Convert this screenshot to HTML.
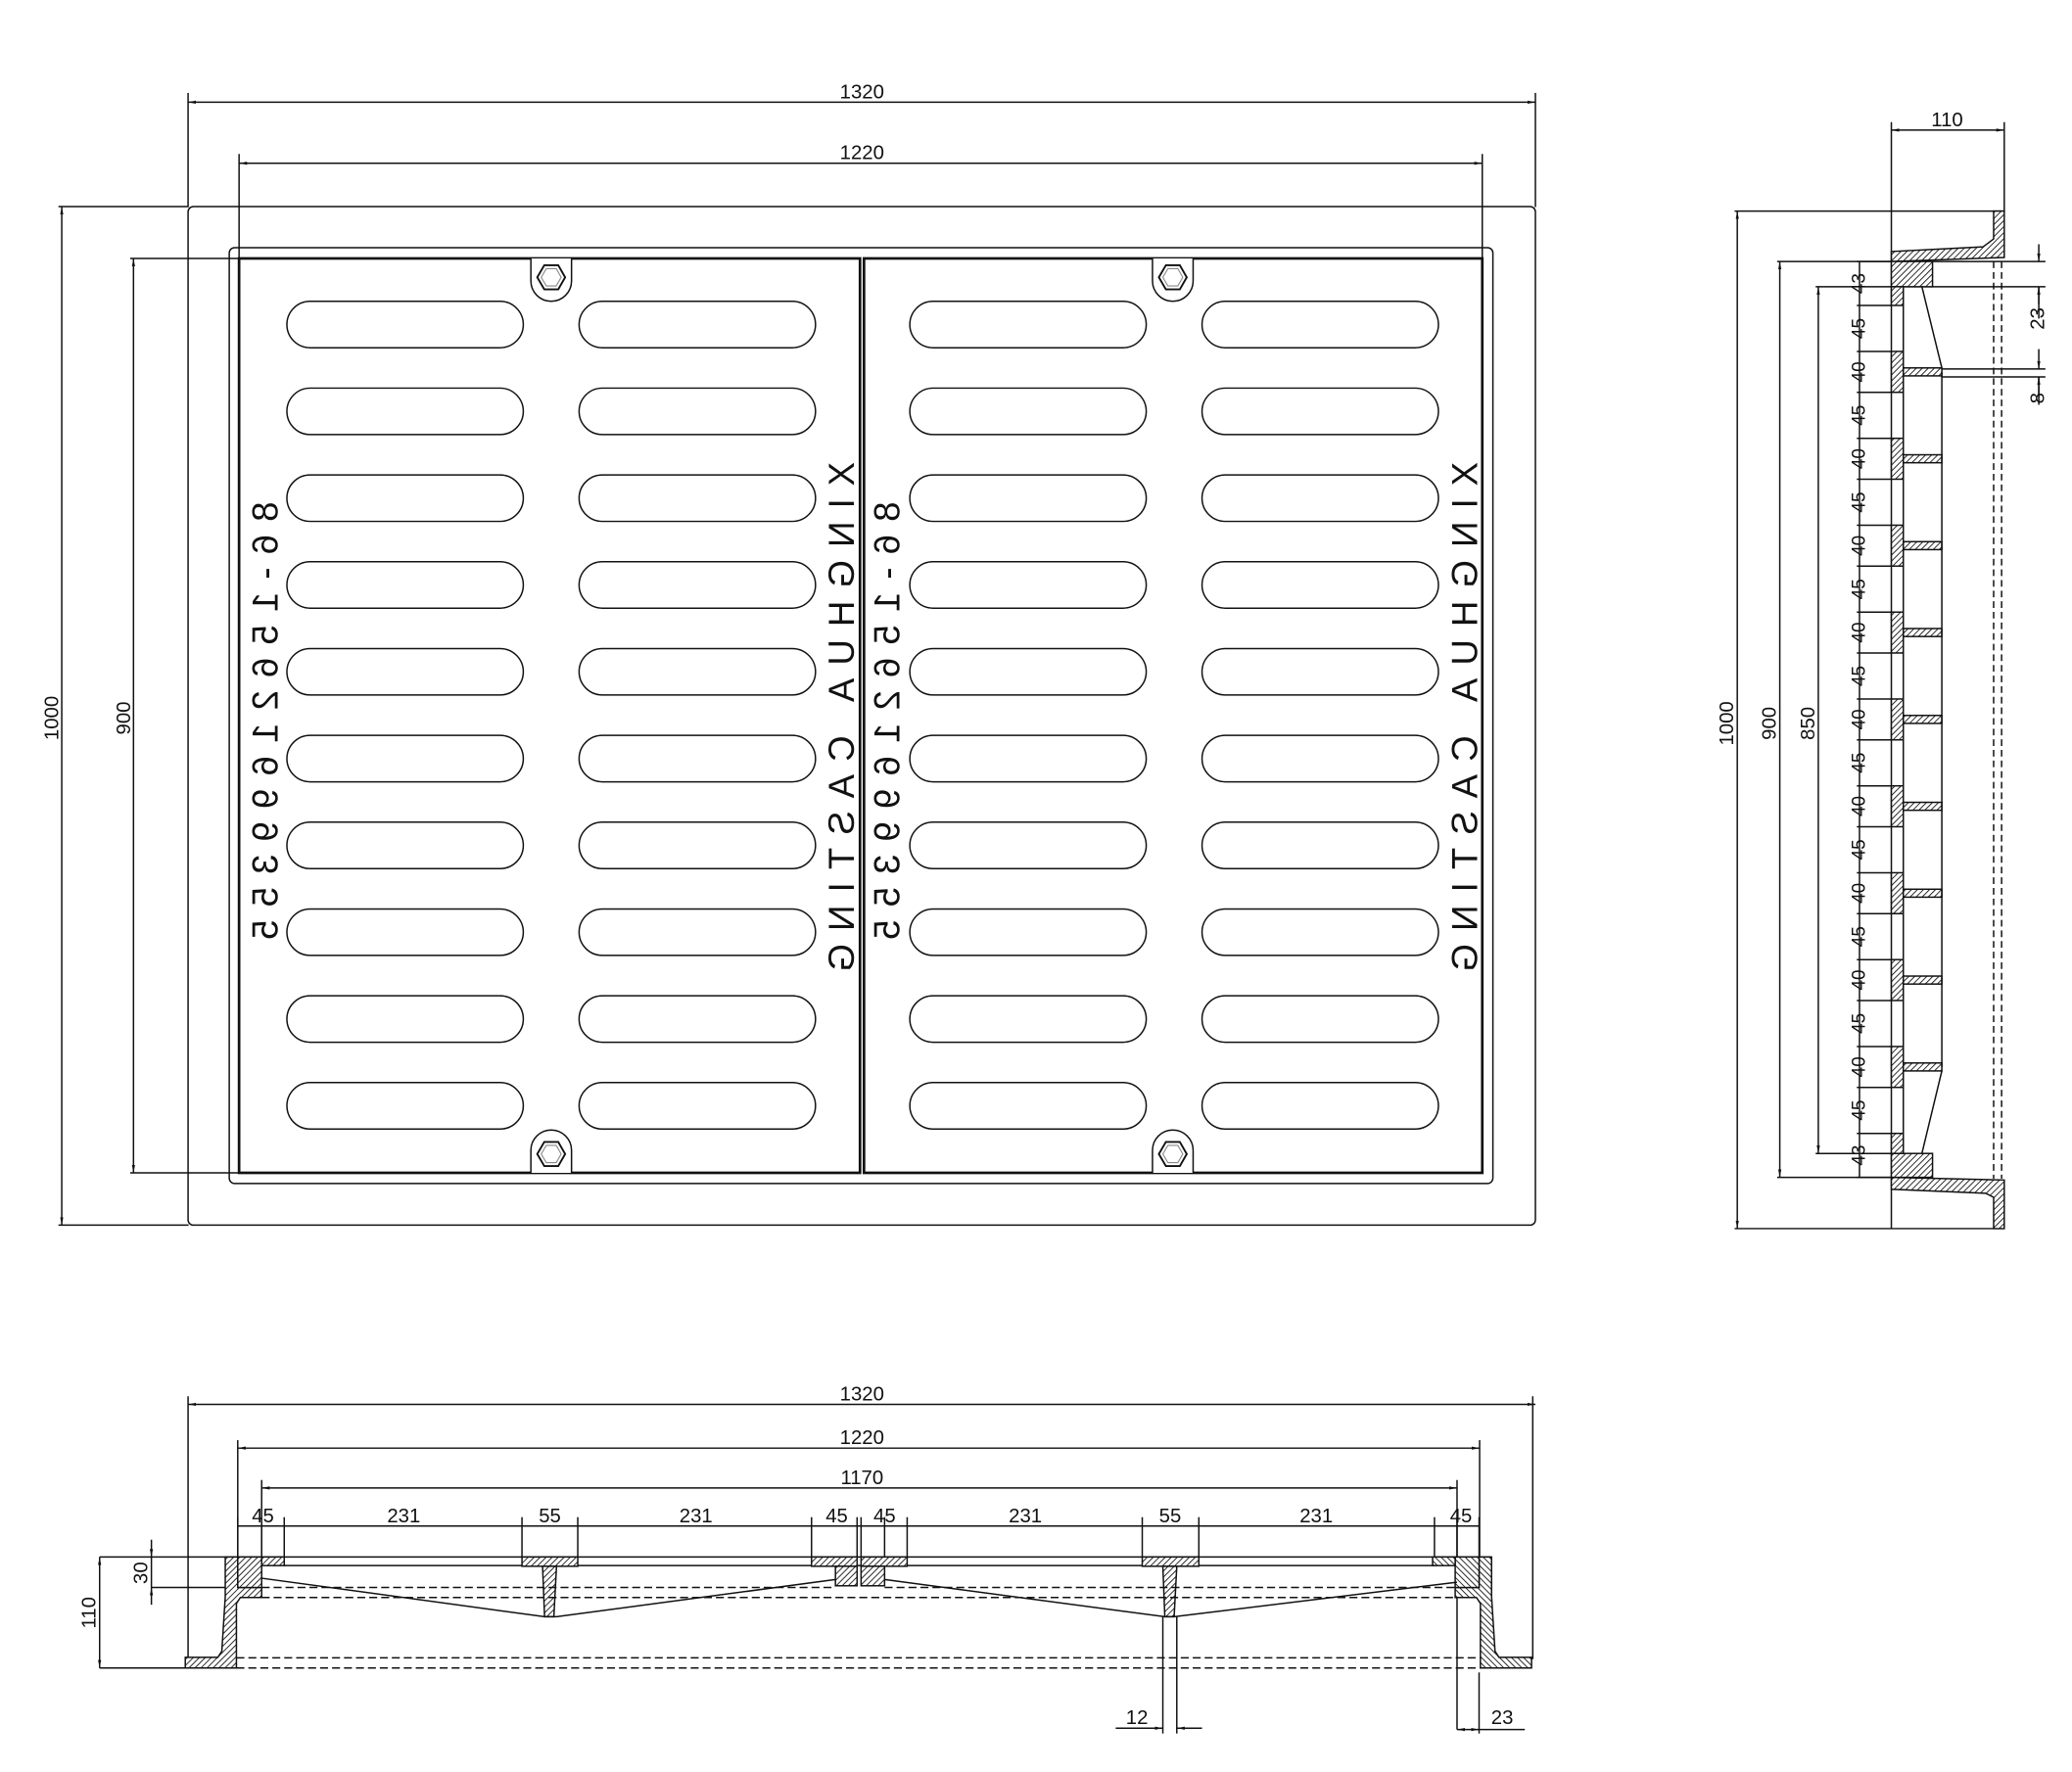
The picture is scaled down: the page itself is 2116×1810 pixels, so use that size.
<!DOCTYPE html>
<html><head><meta charset="utf-8"><style>
html,body{margin:0;padding:0;background:#fff;}
svg{display:block;}
text{font-family:"Liberation Sans",Arial,sans-serif;fill:#111;}
</style></head><body>
<svg id="s" width="2116" height="1810" viewBox="0 0 1560 1335" preserveAspectRatio="none" xmlns="http://www.w3.org/2000/svg">
<defs>
<pattern id="h" patternUnits="userSpaceOnUse" width="3.2" height="3.2" patternTransform="rotate(45)">
<rect width="3.2" height="3.2" fill="#fff"/><line x1="0" y1="0" x2="0" y2="3.2" stroke="#111" stroke-width="1.3"/>
</pattern>
<marker id="a" viewBox="0 0 10 10" refX="10" refY="5" markerWidth="6" markerHeight="6" orient="auto-start-reverse" markerUnits="userSpaceOnUse">
<path d="M0,3 L10,5 L0,7 z" fill="#111"/></marker>
</defs>
<g fill="none" stroke="#111" stroke-width="1.1" id="g">
<line x1="141.6" y1="77" x2="1156" y2="77" marker-start="url(#a)" marker-end="url(#a)"/>
<line x1="141.6" y1="70" x2="141.6" y2="156"/><line x1="1156" y1="70" x2="1156" y2="156"/>
<line x1="180" y1="123" x2="1116" y2="123" marker-start="url(#a)" marker-end="url(#a)"/>
<line x1="180" y1="116" x2="180" y2="195"/><line x1="1116" y1="116" x2="1116" y2="195"/>
<line x1="46.5" y1="155.6" x2="46.5" y2="923" marker-start="url(#a)" marker-end="url(#a)"/>
<line x1="44" y1="155.6" x2="142" y2="155.6"/><line x1="44" y1="923" x2="142" y2="923"/>
<line x1="100.5" y1="194.7" x2="100.5" y2="883.6" marker-start="url(#a)" marker-end="url(#a)"/>
<line x1="98" y1="194.7" x2="180" y2="194.7"/><line x1="98" y1="883.6" x2="180" y2="883.6"/>
<rect x="141.6" y="155.6" width="1014.4" height="767.4" rx="4"/>
<rect x="172.6" y="186.6" width="951.4" height="705" rx="4"/>
<rect x="180" y="194.7" width="467.5" height="688.9" stroke-width="2"/>
<rect x="650.5" y="194.7" width="465.5" height="688.9" stroke-width="2"/>
<g id="slots"></g>
<line x1="1424" y1="98" x2="1509" y2="98" marker-start="url(#a)" marker-end="url(#a)"/>
<line x1="1424" y1="92" x2="1424" y2="926"/><line x1="1509" y1="92" x2="1509" y2="160"/>
<line x1="1308" y1="159" x2="1308" y2="925.6" marker-start="url(#a)" marker-end="url(#a)"/>
<line x1="1306" y1="159" x2="1509" y2="159"/><line x1="1306" y1="925.6" x2="1509" y2="925.6"/>
<line x1="1340" y1="197" x2="1340" y2="887" marker-start="url(#a)" marker-end="url(#a)"/>
<line x1="1338" y1="197" x2="1424" y2="197"/><line x1="1338" y1="887" x2="1424" y2="887"/>
<line x1="1369" y1="216" x2="1369" y2="869" marker-start="url(#a)" marker-end="url(#a)"/>
<line x1="1367" y1="216" x2="1540" y2="216"/><line x1="1367" y1="869" x2="1455" y2="869"/>
<line x1="1400" y1="197" x2="1400" y2="887"/>
<line x1="1455" y1="197" x2="1540" y2="197"/>
<line x1="1535" y1="184" x2="1535" y2="197" marker-end="url(#a)"/>
<line x1="1535" y1="229" x2="1535" y2="216" marker-end="url(#a)"/>
<line x1="1535" y1="216" x2="1535" y2="240"/>
<line x1="1462" y1="278" x2="1540" y2="278"/><line x1="1462" y1="284" x2="1540" y2="284"/>
<line x1="1535" y1="263" x2="1535" y2="278" marker-end="url(#a)"/>
<line x1="1535" y1="299" x2="1535" y2="284" marker-end="url(#a)"/>
<line x1="1535" y1="284" x2="1535" y2="305"/>
<polygon fill="url(#h)" points="1501,159 1509,159 1509,194 1424,197 1424,189.5 1493,186 1501,180"/>
<polygon fill="url(#h)" points="1424,887 1509,889 1509,925.6 1501,925.6 1501,902 1495,899 1424,896"/>
<line x1="1501" y1="197" x2="1501" y2="888" stroke-dasharray="5,3"/>
<line x1="1507" y1="197" x2="1507" y2="888" stroke-dasharray="5,3"/>
<g id="side"></g>
<line x1="141.6" y1="1058" x2="1156" y2="1058" marker-start="url(#a)" marker-end="url(#a)"/>
<line x1="141.6" y1="1052" x2="141.6" y2="1257"/><line x1="1154" y1="1052" x2="1154" y2="1250"/>
<line x1="179" y1="1091" x2="1114" y2="1091" marker-start="url(#a)" marker-end="url(#a)"/>
<line x1="179" y1="1085" x2="179" y2="1173"/><line x1="1114" y1="1085" x2="1114" y2="1173"/>
<line x1="197" y1="1121" x2="1097" y2="1121" marker-start="url(#a)" marker-end="url(#a)"/>
<line x1="197" y1="1115" x2="197" y2="1173"/><line x1="1097" y1="1115" x2="1097" y2="1303"/>
<line x1="179" y1="1149.7" x2="1114" y2="1149.7"/>
<g id="ticks"></g>
<line x1="75" y1="1173" x2="1123" y2="1173"/>
<line x1="75" y1="1256.6" x2="140" y2="1256.6"/>
<line x1="114" y1="1196" x2="170" y2="1196"/>
<line x1="75" y1="1173" x2="75" y2="1256.6" marker-start="url(#a)" marker-end="url(#a)"/>
<line x1="114" y1="1160" x2="114" y2="1173" marker-end="url(#a)"/>
<line x1="114" y1="1209" x2="114" y2="1196" marker-end="url(#a)"/>
<line x1="114" y1="1173" x2="114" y2="1196"/>
<g id="prof">
<polygon fill="url(#h)" points="169.6,1173 179,1173 179,1196 197,1196 197,1203.5 181,1203.5 178,1208 178,1256.6 139.5,1256.6 139.5,1248.6 164,1248.6 167,1244 169.6,1203"/>
<rect fill="url(#h)" x="179" y="1173" width="18" height="23"/>
<rect fill="url(#h)" x="197" y="1173" width="17" height="6.5"/>
</g>
<use href="#prof" transform="translate(1292.6,0) scale(-1,1)"/>
<line x1="214" y1="1179.5" x2="1080" y2="1179.5"/>
<rect fill="url(#h)" x="393" y="1173" width="42" height="7"/>
<polygon fill="url(#h)" points="408.5,1180 419,1180 417,1218 410,1218"/>
<rect fill="url(#h)" x="860" y="1173" width="42.6" height="7"/>
<polygon fill="url(#h)" points="875.5,1180 886,1180 884,1218 877,1218"/>
<rect fill="url(#h)" x="611" y="1173" width="34.3" height="7"/>
<rect fill="url(#h)" x="629" y="1180" width="16.3" height="14.7"/>
<rect fill="url(#h)" x="648.3" y="1173" width="34.7" height="7"/>
<rect fill="url(#h)" x="648.3" y="1180" width="17.7" height="14.7"/>
<polyline points="197,1189 410,1218 419,1218 629,1190"/>
<polyline points="666,1190 877,1218 884,1218 1097,1192"/>
<line x1="197" y1="1196" x2="629" y2="1196" stroke-dasharray="6,3"/>
<line x1="666" y1="1196" x2="1097" y2="1196" stroke-dasharray="6,3"/>
<line x1="197" y1="1203.5" x2="1097" y2="1203.5" stroke-dasharray="6,3"/>
<line x1="178" y1="1249" x2="1115" y2="1249" stroke-dasharray="6,3"/>
<line x1="178" y1="1256.6" x2="1115" y2="1256.6" stroke-dasharray="6,3"/>
<line x1="875.5" y1="1218" x2="875.5" y2="1306"/><line x1="886" y1="1218" x2="886" y2="1306"/>
<line x1="840" y1="1302" x2="875.5" y2="1302" marker-end="url(#a)"/>
<line x1="905" y1="1302" x2="886" y2="1302" marker-end="url(#a)"/>
<line x1="1113.6" y1="1260" x2="1113.6" y2="1306"/>
<line x1="1097" y1="1303" x2="1113.6" y2="1303" marker-start="url(#a)" marker-end="url(#a)"/>
<line x1="1113.6" y1="1303" x2="1148" y2="1303"/>
</g>
<g font-size="15" text-anchor="middle">
<text x="649" y="74">1320</text>
<text x="649" y="120">1220</text>
<text x="1466" y="95">110</text>
<text transform="translate(44,541) rotate(-90)">1000</text>
<text transform="translate(98,541) rotate(-90)">900</text>
<text transform="translate(1305,545) rotate(-90)">1000</text>
<text transform="translate(1337,545) rotate(-90)">900</text>
<text transform="translate(1366,545) rotate(-90)">850</text>
<text transform="translate(1539,240) rotate(-90)">23</text>
<text transform="translate(1539,300) rotate(-90)">8</text>
<text x="649" y="1055">1320</text>
<text x="649" y="1088">1220</text>
<text x="649" y="1118">1170</text>
<text x="198" y="1147">45</text><text x="304" y="1147">231</text><text x="414" y="1147">55</text>
<text x="524" y="1147">231</text><text x="630" y="1147">45</text><text x="666" y="1147">45</text>
<text x="772" y="1147">231</text><text x="881" y="1147">55</text><text x="991" y="1147">231</text>
<text x="1100" y="1147">45</text>
<text transform="translate(72,1215) rotate(-90)">110</text>
<text transform="translate(111,1185) rotate(-90)">30</text>
<text x="856" y="1299">12</text>
<text x="1131" y="1299">23</text>
</g>
<g font-size="14" text-anchor="middle">
<text transform="translate(1404,213.6) rotate(-90)">43</text>
<text transform="translate(1404,247.5) rotate(-90)">45</text>
<text transform="translate(1404,280.2) rotate(-90)">40</text>
<text transform="translate(1404,312.9) rotate(-90)">45</text>
<text transform="translate(1404,345.6) rotate(-90)">40</text>
<text transform="translate(1404,378.4) rotate(-90)">45</text>
<text transform="translate(1404,411.1) rotate(-90)">40</text>
<text transform="translate(1404,443.8) rotate(-90)">45</text>
<text transform="translate(1404,476.5) rotate(-90)">40</text>
<text transform="translate(1404,509.3) rotate(-90)">45</text>
<text transform="translate(1404,542) rotate(-90)">40</text>
<text transform="translate(1404,574.7) rotate(-90)">45</text>
<text transform="translate(1404,607.4) rotate(-90)">40</text>
<text transform="translate(1404,640.1) rotate(-90)">45</text>
<text transform="translate(1404,672.9) rotate(-90)">40</text>
<text transform="translate(1404,705.6) rotate(-90)">45</text>
<text transform="translate(1404,738.3) rotate(-90)">40</text>
<text transform="translate(1404,771) rotate(-90)">45</text>
<text transform="translate(1404,803.8) rotate(-90)">40</text>
<text transform="translate(1404,836.5) rotate(-90)">45</text>
<text transform="translate(1404,870.4) rotate(-90)">43</text>
</g>
<g font-size="27">
<text transform="translate(643,348) rotate(90) scale(1,-1)" textLength="384" lengthAdjust="spacing">XINGHUA CASTING</text>
<text transform="translate(209,378) rotate(90) scale(1,-1)" textLength="330" lengthAdjust="spacing">86-15621699355</text>
<text transform="translate(1112,348) rotate(90) scale(1,-1)" textLength="384" lengthAdjust="spacing">XINGHUA CASTING</text>
<text transform="translate(677,378) rotate(90) scale(1,-1)" textLength="330" lengthAdjust="spacing">86-15621699355</text>
</g>
</svg>
<script>
(function(){
var NS="http://www.w3.org/2000/svg";
function el(p,t,a){var e=document.createElementNS(NS,t);for(var k in a)e.setAttribute(k,a[k]);p.appendChild(e);return e;}
var g=document.getElementById("slots");
var cols=[216,436,685,905];
for(var i=0;i<10;i++){var cy=244.5+i*65.4;
 for(var j=0;j<4;j++) el(g,"rect",{x:cols[j],y:cy-17.5,width:178,height:35,rx:17.5});}
function boss(cx,top,dir){
 var y0=top, y1=top+dir*17;
 el(g,"path",{d:"M"+(cx-15.3)+","+y0+" L"+(cx-15.3)+","+y1+" A15.3,15.3 0 0 "+(dir>0?0:1)+" "+(cx+15.3)+","+y1+" L"+(cx+15.3)+","+y0,fill:"#fff"});
 var hy=top+dir*14.2;
 function hex(r,w,c){var p=[];for(var k=0;k<6;k++){var a=Math.PI/3*k;p.push((cx+r*Math.cos(a)).toFixed(1)+","+(hy+r*Math.sin(a)).toFixed(1));}
  el(g,"polygon",{points:p.join(" "),"stroke-width":w,stroke:c});}
 hex(10.5,1.4,"#111");hex(7.5,0.8,"#888");
}
boss(415,194.7,1);boss(883,194.7,1);boss(415,883.6,-1);boss(883,883.6,-1);
var s=document.getElementById("side");
var seq=[43];for(var i=0;i<9;i++){seq.push(45);seq.push(40);}seq.push(45);seq.push(43);
var k=690/896,y=197,b=[197];
for(var i=0;i<seq.length;i++){y+=seq[i]*k;b.push(y);}
for(var i=0;i<b.length;i++) el(s,"line",{x1:1398,y1:b[i],x2:1424,y2:b[i]});
var ribs=[];
for(var i=0;i<seq.length;i++){
 if(seq[i]==40){el(s,"rect",{x:1424,y:b[i],width:9,height:b[i+1]-b[i],fill:"url(#h)"});
  var c=(b[i]+b[i+1])/2;ribs.push(c);el(s,"rect",{x:1433,y:c-3,width:29,height:6,fill:"url(#h)"});}
}
el(s,"rect",{x:1424,y:197,width:31,height:19,fill:"url(#h)"});
el(s,"rect",{x:1424,y:216,width:9,height:b[1]-216,fill:"url(#h)"});
el(s,"rect",{x:1424,y:869,width:31,height:18,fill:"url(#h)"});
el(s,"rect",{x:1424,y:b[b.length-2],width:9,height:869-b[b.length-2],fill:"url(#h)"});
el(s,"line",{x1:1433,y1:216,x2:1433,y2:869});
el(s,"line",{x1:1462,y1:ribs[0],x2:1462,y2:ribs[ribs.length-1]});
el(s,"line",{x1:1447,y1:216,x2:1462,y2:ribs[0]-3});
el(s,"line",{x1:1447,y1:869,x2:1462,y2:ribs[ribs.length-1]+3});
var t=document.getElementById("ticks");
var xs=[179,197,214,393,435,611,645.3,648.3,666,683,860,902.6,1080,1097,1113.6];
for(var i=0;i<xs.length;i++) el(t,"line",{x1:xs[i],y1:1143,x2:xs[i],y2:1173});
})();
</script>
</body></html>
